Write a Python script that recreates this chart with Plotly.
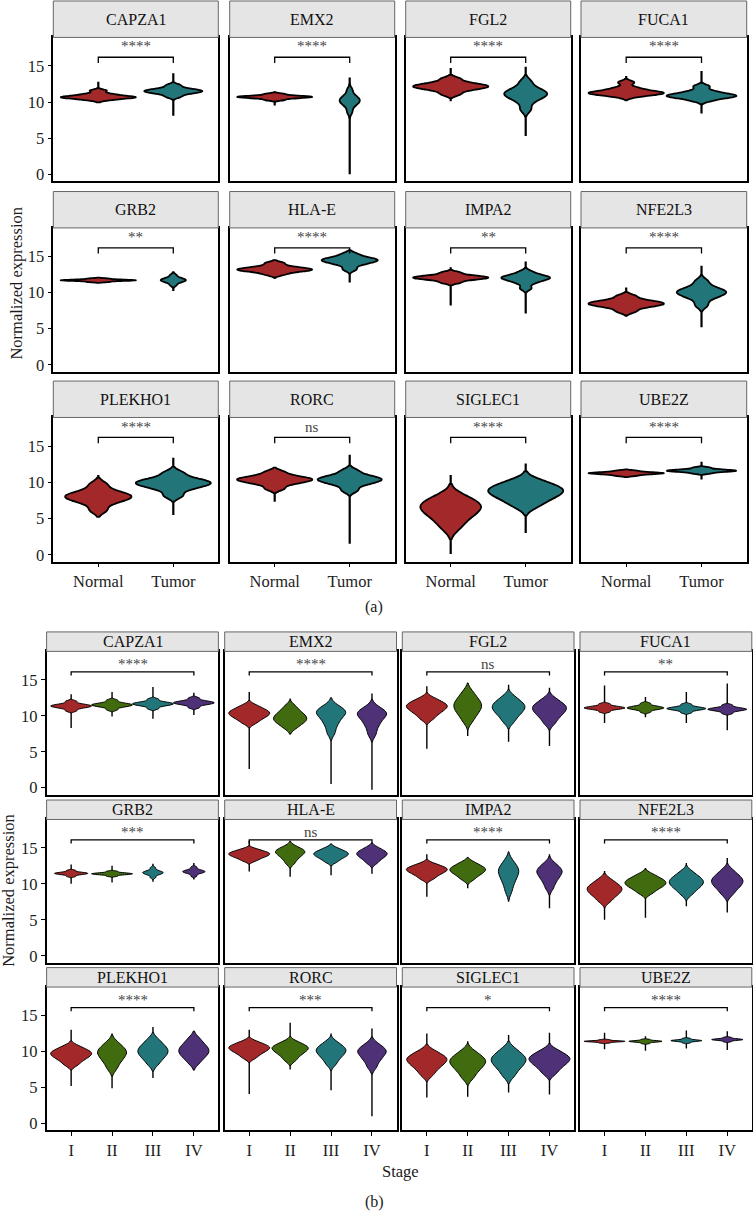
import numpy as np
import plotly.graph_objects as go

# ---------------- data ----------------
GENES = ['CAPZA1', 'EMX2', 'FGL2', 'FUCA1', 'GRB2', 'HLA-E',
         'IMPA2', 'NFE2L3', 'PLEKHO1', 'RORC', 'SIGLEC1', 'UBE2Z']
GROUPS_A = ['Normal', 'Tumor']
GROUPS_B = ['I', 'II', 'III', 'IV']
SIG_A = ['****', '****', '****', '****', '**', '****', '**', '****', '****', 'ns', '****', '****']
SIG_B = ['****', '****', 'ns', '**', '***', 'ns', '****', '****', '****', '***', '*', '****']
Y_TICKS = [0, 5, 10, 15]

# body of each distribution
NORMAL = [
    [10.28, 10.49, 10.59, 10.65, 10.7, 10.8, 10.94, 11.15, 11.58],
    [10.28, 10.49, 10.59, 10.65, 10.7, 10.75, 10.81, 10.91, 11.12],
    [11.09, 11.62, 11.86, 12.04, 12.15, 12.28, 12.44, 12.68, 13.21],
    [10.77, 11.04, 11.16, 11.24, 11.3, 11.46, 11.68, 12.0, 12.71],
    [11.46, 11.57, 11.64, 11.67, 11.7, 11.73, 11.76, 11.83, 11.94],
    [12.5, 12.85, 13.01, 13.12, 13.2, 13.3, 13.44, 13.65, 14.08],
    [11.37, 11.72, 11.88, 11.99, 12.07, 12.15, 12.26, 12.42, 12.77],
    [7.39, 7.92, 8.16, 8.34, 8.45, 8.58, 8.74, 8.98, 9.51],
    [6.14, 7.07, 7.5, 7.79, 8.0, 8.2, 8.46, 8.86, 9.72],
    [9.12, 9.74, 10.01, 10.21, 10.35, 10.48, 10.64, 10.88, 11.41],
    [3.73, 4.78, 5.41, 5.92, 6.4, 6.71, 7.06, 7.49, 8.18],
    [10.9, 11.07, 11.15, 11.22, 11.25, 11.3, 11.35, 11.43, 11.6],
]
TUMOR = [
    [10.73, 11.12, 11.29, 11.42, 11.5, 11.6, 11.72, 11.9, 12.32],
    [8.62, 9.42, 9.77, 10.02, 10.2, 10.38, 10.6, 10.94, 11.67],
    [8.99, 10.04, 10.54, 10.86, 11.1, 11.29, 11.55, 11.95, 12.8],
    [10.2, 10.55, 10.71, 10.82, 10.9, 11.04, 11.24, 11.54, 12.16],
    [11.02, 11.37, 11.53, 11.64, 11.72, 11.8, 11.91, 12.07, 12.42],
    [13.22, 13.84, 14.11, 14.31, 14.45, 14.55, 14.69, 14.9, 15.33],
    [10.59, 11.3, 11.62, 11.84, 12.0, 12.1, 12.22, 12.42, 12.85],
    [8.24, 9.12, 9.54, 9.81, 10.0, 10.18, 10.42, 10.77, 11.55],
    [8.15, 9.01, 9.41, 9.67, 9.87, 10.04, 10.26, 10.59, 11.3],
    [8.88, 9.61, 9.95, 10.19, 10.35, 10.49, 10.69, 10.97, 11.58],
    [6.7, 7.48, 7.96, 8.35, 8.7, 8.98, 9.27, 9.65, 10.25],
    [11.22, 11.41, 11.5, 11.55, 11.6, 11.65, 11.71, 11.82, 12.03],
]
STAGE_I = [
    [10.69, 11.02, 11.17, 11.28, 11.35, 11.43, 11.53, 11.68, 12.01],
    [9.03, 9.52, 9.83, 10.08, 10.3, 10.5, 10.71, 10.98, 11.41],
    [9.61, 10.23, 10.61, 10.92, 11.2, 11.41, 11.64, 11.93, 12.39],
    [10.55, 10.83, 10.95, 11.04, 11.1, 11.16, 11.25, 11.38, 11.65],
    [11.03, 11.24, 11.34, 11.4, 11.45, 11.5, 11.56, 11.65, 11.86],
    [13.23, 13.57, 13.78, 13.95, 14.1, 14.23, 14.37, 14.54, 14.82],
    [10.71, 11.17, 11.46, 11.69, 11.9, 12.05, 12.23, 12.43, 12.78],
    [7.61, 8.23, 8.61, 8.92, 9.2, 9.45, 9.72, 10.05, 10.6],
    [8.17, 8.73, 9.07, 9.35, 9.6, 9.8, 10.01, 10.28, 10.71],
    [9.13, 9.62, 9.93, 10.18, 10.4, 10.57, 10.75, 10.98, 11.35],
    [6.79, 7.54, 7.99, 8.36, 8.7, 8.94, 9.2, 9.53, 10.05],
    [11.18, 11.29, 11.34, 11.38, 11.4, 11.43, 11.46, 11.51, 11.62],
]
STAGE_II = [
    [10.84, 11.17, 11.32, 11.43, 11.5, 11.58, 11.68, 11.83, 12.16],
    [8.35, 8.88, 9.2, 9.46, 9.7, 9.98, 10.29, 10.67, 11.29],
    [9.28, 10.09, 10.58, 10.99, 11.35, 11.69, 12.08, 12.54, 13.31],
    [10.51, 10.8, 10.94, 11.03, 11.1, 11.17, 11.27, 11.41, 11.72],
    [11.07, 11.24, 11.31, 11.36, 11.4, 11.44, 11.49, 11.57, 11.73],
    [12.87, 13.43, 13.77, 14.05, 14.3, 14.46, 14.63, 14.84, 15.19],
    [10.63, 11.12, 11.43, 11.68, 11.9, 12.09, 12.3, 12.55, 12.97],
    [8.75, 9.28, 9.6, 9.86, 10.1, 10.31, 10.54, 10.83, 11.29],
    [7.63, 8.44, 8.93, 9.34, 9.7, 9.97, 10.27, 10.64, 11.24],
    [8.79, 9.38, 9.74, 10.03, 10.3, 10.48, 10.68, 10.92, 11.32],
    [6.38, 7.19, 7.68, 8.09, 8.45, 8.72, 9.03, 9.4, 10.01],
    [11.11, 11.26, 11.32, 11.37, 11.4, 11.43, 11.47, 11.53, 11.66],
]
STAGE_III = [
    [10.99, 11.32, 11.47, 11.58, 11.65, 11.73, 11.83, 11.98, 12.31],
    [7.66, 8.65, 9.26, 9.75, 10.2, 10.41, 10.64, 10.92, 11.38],
    [9.19, 9.94, 10.39, 10.76, 11.1, 11.37, 11.67, 12.03, 12.63],
    [10.43, 10.71, 10.85, 10.94, 11.0, 11.07, 11.16, 11.3, 11.59],
    [10.89, 11.22, 11.37, 11.48, 11.55, 11.63, 11.73, 11.89, 12.23],
    [13.07, 13.47, 13.72, 13.92, 14.1, 14.25, 14.42, 14.62, 14.96],
    [8.96, 9.95, 10.56, 11.05, 11.5, 11.8, 12.13, 12.53, 13.19],
    [8.61, 9.23, 9.61, 9.92, 10.2, 10.46, 10.74, 11.08, 11.65],
    [8.25, 8.93, 9.35, 9.69, 10.0, 10.29, 10.61, 11.0, 11.64],
    [8.25, 8.93, 9.35, 9.69, 10.0, 10.23, 10.48, 10.79, 11.29],
    [6.63, 7.44, 7.93, 8.34, 8.7, 8.99, 9.31, 9.71, 10.35],
    [11.2, 11.35, 11.42, 11.47, 11.5, 11.53, 11.58, 11.65, 11.8],
]
STAGE_IV = [
    [11.14, 11.47, 11.62, 11.73, 11.8, 11.88, 11.98, 12.13, 12.46],
    [7.46, 8.45, 9.06, 9.55, 10.0, 10.21, 10.44, 10.72, 11.18],
    [8.99, 9.74, 10.19, 10.56, 10.9, 11.15, 11.43, 11.77, 12.33],
    [10.33, 10.61, 10.75, 10.84, 10.9, 10.97, 11.06, 11.2, 11.49],
    [11.08, 11.39, 11.54, 11.63, 11.7, 11.77, 11.87, 12.01, 12.32],
    [12.89, 13.36, 13.65, 13.89, 14.1, 14.27, 14.45, 14.68, 15.05],
    [9.43, 10.24, 10.73, 11.14, 11.5, 11.74, 12.0, 12.33, 12.85],
    [8.55, 9.23, 9.65, 9.99, 10.3, 10.57, 10.88, 11.25, 11.86],
    [8.43, 9.08, 9.48, 9.81, 10.1, 10.4, 10.74, 11.15, 11.82],
    [7.81, 8.59, 9.06, 9.45, 9.8, 10.02, 10.27, 10.58, 11.07],
    [6.97, 7.68, 8.12, 8.48, 8.8, 9.04, 9.3, 9.63, 10.15],
    [11.36, 11.51, 11.57, 11.62, 11.65, 11.68, 11.73, 11.8, 11.94],
]

# [min, max] of each distribution (the thin violin tails)
NORMAL_RANGE = [[9.95, 12.8], [9.5, 11.5], [10.1, 14.7], [10.1, 13.6], [11.45, 12.0], [11.9, 14.45],
                [8.2, 13.5], [6.65, 10.7], [5.5, 11.0], [7.3, 11.7], [0.1, 11.0], [10.7, 11.6]]
TUMOR_RANGE = [[8.1, 14.0], [0.0, 13.4], [5.3, 14.9], [8.4, 14.3], [10.2, 12.9], [11.4, 15.7],
               [7.1, 14.3], [5.2, 13.7], [5.5, 13.4], [1.5, 13.8], [3.0, 12.6], [10.4, 12.85]]
STAGE_I_RANGE = [[8.3, 13.0], [2.6, 13.3], [5.4, 14.1], [9.0, 14.2], [10.0, 12.7], [11.7, 16.0],
                 [8.2, 14.1], [5.0, 11.8], [5.2, 13.0], [4.1, 13.0], [3.6, 12.5], [10.3, 12.6]]
STAGE_II_RANGE = [[9.9, 13.3], [7.4, 12.4], [7.2, 14.6], [9.8, 12.6], [10.2, 12.5], [11.0, 16.0],
                  [9.4, 13.5], [5.3, 12.2], [4.9, 12.5], [7.5, 14.0], [3.7, 11.4], [10.1, 12.1]]
STAGE_III_RANGE = [[9.6, 14.0], [0.5, 12.5], [6.4, 14.3], [9.0, 13.3], [10.3, 12.8], [11.2, 15.6],
                   [7.5, 14.3], [6.9, 12.9], [6.3, 13.4], [4.6, 12.5], [4.3, 12.3], [10.4, 12.9]]
STAGE_IV_RANGE = [[10.1, 13.2], [-0.3, 13.1], [5.8, 13.9], [8.0, 14.5], [10.6, 12.9], [11.4, 15.4],
                  [6.6, 14.1], [6.0, 13.6], [7.4, 12.8], [1.0, 13.2], [4.0, 12.6], [10.2, 12.8]]

# ---------------- style / layout ----------------
W, H = 753, 1215
FONT = 'Liberation Serif, Times New Roman, serif'
COLORS_A = ['#A3282A', '#22767A']
COLORS_B = ['#A3282A', '#416B0F', '#22767A', '#4F3177']

A_COLS = [(53.3, 218.3), (229.7, 394.7), (405.7, 570.7), (581.0, 746.7)]
A_ROWS = [(37.5, 181.5), (228.5, 372.5), (418.5, 563.0)]
A_STRIP = 36.5
B_COLS = [(46.6, 218.4), (224.7, 396.5), (402.3, 574.0), (580.0, 751.8)]
B_ROWS = [(653.0, 796.5), (821.5, 965.0), (989.5, 1133.0)]
B_STRIP = 19.5
Y_RANGE = [-0.95, 18.95]


def kde_bw(vals, factor):
    v = np.asarray(vals, dtype=float)
    q1, q3 = np.percentile(v, [25, 75])
    s = min(v.std(ddof=1), (q3 - q1) / 1.349)
    return factor * 1.059 * s * len(v) ** -0.2


fig = go.Figure()
layout = dict(width=W, height=H, margin=dict(l=0, r=0, t=0, b=0),
              paper_bgcolor='white', plot_bgcolor='white',
              violinmode='overlay', violingap=0, violingroupgap=0, showlegend=False,
              font=dict(family=FONT, size=16, color='#1a1a1a'))
shapes, annots = [], []


def add_panel(k, gi, groups, series, ranges, colors, cols, rows, strip_h, sig,
              line_w, tail_w, bw_f, br_y, br_tick, lab_y, tag):
    r, c = divmod(gi, 4)
    x0p, x1p = cols[c]
    top, bot = rows[r]
    nm = '' if k == 1 else str(k)
    n = len(groups)
    pos = list(range(1, n + 1))
    layout['xaxis' + nm] = dict(
        domain=[x0p / W, x1p / W], anchor='y' + nm, range=[0.4, n + 0.6],
        tickvals=pos, ticktext=groups, showticklabels=(r == 2),
        ticks='outside' if r == 2 else '', ticklen=4, tickwidth=1.2, tickcolor='black',
        tickfont=dict(size=16.5, color='#222'),
        showline=True, mirror=True, linecolor='black', linewidth=1.5,
        showgrid=False, zeroline=False, type='linear')
    layout['yaxis' + nm] = dict(
        domain=[1 - bot / H, 1 - top / H], anchor='x' + nm, range=Y_RANGE,
        tickvals=Y_TICKS, showticklabels=(c == 0),
        ticks='outside' if c == 0 else '', ticklen=4, tickwidth=1.2, tickcolor='black',
        tickfont=dict(size=16.5, color='#222'),
        showline=True, mirror=True, linecolor='black', linewidth=1.5,
        showgrid=False, zeroline=False)
    for j, grp in enumerate(groups):
        vals = series[j][gi]
        lo, hi = ranges[j][gi]
        # thin tail from min to max, drawn beneath the violin body
        shapes.append(dict(type='line', xref='x' + nm, yref='y' + nm,
                           x0=pos[j], x1=pos[j], y0=lo, y1=hi, layer='below',
                           line=dict(color='black', width=tail_w)))
        fig.add_trace(go.Violin(
            y=vals, x0=pos[j], name=f'{tag}-{GENES[gi]}-{grp}',
            xaxis='x' + nm, yaxis='y' + nm,
            fillcolor=colors[j], line=dict(color='black', width=line_w),
            points=False, box_visible=False, meanline_visible=False,
            spanmode='soft', scalemode='count',
            bandwidth=kde_bw(vals, bw_f),
            scalegroup=f'{tag}{gi}', opacity=1, hoverinfo='skip'))
    ph = bot - top
    dx = 'x' + nm + ' domain'
    dy = 'y' + nm + ' domain'
    shapes.append(dict(type='rect', xref=dx, yref=dy, x0=0, x1=1, y0=1,
                       y1=1 + strip_h / ph, fillcolor='#E5E5E5',
                       line=dict(color='#666', width=1), layer='above'))
    annots.append(dict(xref=dx, yref=dy, x=0.5, y=1 + strip_h / 2 / ph,
                       text=GENES[gi], showarrow=False, xanchor='center', yanchor='middle',
                       font=dict(size=16, color='#111')))
    shapes.append(dict(type='path', xref='x' + nm, yref='y' + nm,
                       path=f'M {pos[0]},{br_tick} L {pos[0]},{br_y} L {pos[-1]},{br_y} L {pos[-1]},{br_tick}',
                       line=dict(color='black', width=1.3)))
    annots.append(dict(xref='x' + nm, yref='y' + nm, x=(pos[0] + pos[-1]) / 2, y=lab_y,
                       text=sig[gi], showarrow=False, xanchor='center', yanchor='middle',
                       font=dict(size=15, color='#444')))


k = 1
for gi in range(12):
    add_panel(k, gi, GROUPS_A, [NORMAL, TUMOR], [NORMAL_RANGE, TUMOR_RANGE], COLORS_A,
              A_COLS, A_ROWS, A_STRIP, SIG_A, 1.8, 2.2, 0.95, 16.2, 15.4, 17.7, 'a')
    k += 1
for gi in range(12):
    add_panel(k, gi, GROUPS_B, [STAGE_I, STAGE_II, STAGE_III, STAGE_IV],
              [STAGE_I_RANGE, STAGE_II_RANGE, STAGE_III_RANGE, STAGE_IV_RANGE], COLORS_B,
              B_COLS, B_ROWS, B_STRIP, SIG_B, 1.0, 1.4, 0.8, 16.1, 15.6, 17.2, 'b')
    k += 1


def paper_text(x, y, text, angle=0, size=16.5):
    return dict(xref='paper', yref='paper', x=x / W, y=1 - y / H, text=text,
                textangle=angle, showarrow=False, xanchor='center', yanchor='middle',
                font=dict(size=size, color='#1a1a1a'))


annots += [
    paper_text(16.7, 283.6, 'Normalized expression', -90),
    paper_text(9, 893, 'Normalized expression', -90),
    paper_text(400, 1174, 'Stage'),
    paper_text(374, 609, '(a)', size=16),
    paper_text(374, 1205, '(b)', size=16),
]
layout['shapes'] = shapes
layout['annotations'] = annots
fig.update_layout(**layout)
fig.write_html('out.html', config={'displayModeBar': False},
               post_script="document.body.style.margin='0px';document.body.style.padding='0px';document.body.style.overflow='hidden';")
